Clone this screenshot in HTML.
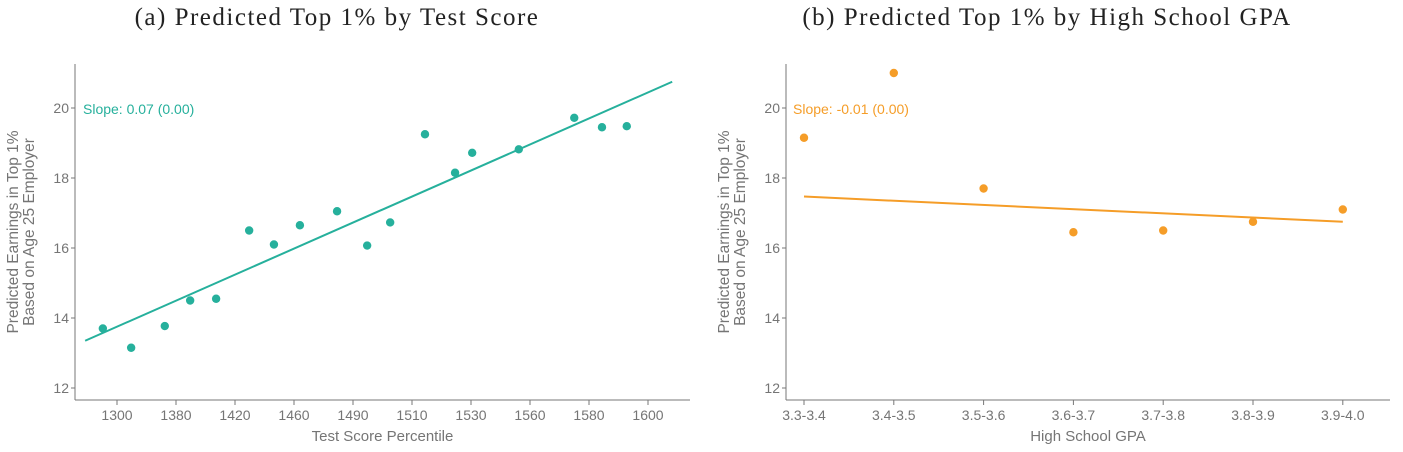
<!DOCTYPE html>
<html><head><meta charset="utf-8"><style>
body{margin:0;background:#fff;width:1403px;height:447px;overflow:hidden}
svg text{font-family:"Liberation Sans",sans-serif;fill:#757575}
</style></head><body>
<svg id="c" width="1403" height="447">
<text x="337" y="25" text-anchor="middle" style="font-family:'Liberation Serif',serif;font-size:25px;letter-spacing:1.5px;fill:#222">(a)  Predicted Top 1% by Test Score</text>
<text x="1047" y="25" text-anchor="middle" style="font-family:'Liberation Serif',serif;font-size:25px;letter-spacing:1.5px;fill:#222">(b)  Predicted Top 1% by High School GPA</text>
</svg>
<script>
const aCats=["1300","1380","1420","1460","1490","1510","1530","1560","1580","1600"];
const aX=[-0.24,0.24,0.81,1.24,1.68,2.24,2.66,3.10,3.73,4.24,4.63,5.22,5.73,6.02,6.81,7.75,8.22,8.64];
const aY=[13.7,13.15,13.77,14.5,14.55,16.5,16.1,16.65,17.05,16.07,16.73,19.25,18.15,18.72,18.82,19.72,19.45,19.48];
const aFitX=[-0.54,9.41];
const aFitY=[13.35,20.75];
const bCats=["3.3-3.4","3.4-3.5","3.5-3.6","3.6-3.7","3.7-3.8","3.8-3.9","3.9-4.0"];
const bY=[19.15,21.0,17.7,16.45,16.5,16.75,17.1];
const bFitY=[17.47,16.75];
const yTicks=[12,14,16,18,20];
const NS="http://www.w3.org/2000/svg";
const svg=document.getElementById('c');
function el(t,a,txt){const e=document.createElementNS(NS,t);for(const k in a)e.setAttribute(k,a[k]);if(txt!=null)e.textContent=txt;svg.appendChild(e);return e;}
function panel(p){
  const ys=v=>388-(v-12)*35;
  const xs=i=>p.x0+p.dx*i;
  let e=el('line',{x1:p.ax,y1:64,x2:p.ax,y2:400,stroke:'#777','stroke-width':1});
  
  
  e=el('line',{x1:p.ax,y1:400,x2:p.xEnd,y2:400,stroke:'#777','stroke-width':1});
  
  
  yTicks.forEach(v=>{
    el('line',{x1:p.ax-4,y1:ys(v),x2:p.ax,y2:ys(v),stroke:'#777'});
    e=el('text',{x:p.ax-6,y:ys(v)+5,'text-anchor':'end','font-size':14},String(v));
    
    
  });
  p.cats.forEach((c,i)=>{
    el('line',{x1:xs(i),y1:400,x2:xs(i),y2:405,stroke:'#777'});
    e=el('text',{x:xs(i),y:420,'text-anchor':'middle','font-size':14},c);
    
    
  });
  e=el('text',{x:(p.ax+p.xEnd)/2,y:441,'text-anchor':'middle','font-size':15},p.xt);
  
  
  const g=el('text',{transform:`translate(${p.ax-57},232) rotate(-90)`,'text-anchor':'middle','font-size':15.5});
  
  
  const t1=document.createElementNS(NS,'tspan');t1.setAttribute('x',0);t1.setAttribute('dy',0);t1.textContent='Predicted Earnings in Top 1%';g.appendChild(t1);
  const t2=document.createElementNS(NS,'tspan');t2.setAttribute('x',0);t2.setAttribute('dy',16);t2.textContent='Based on Age 25 Employer';g.appendChild(t2);
  e=el('line',{x1:xs(p.fx[0]),y1:ys(p.fy[0]),x2:xs(p.fx[1]),y2:ys(p.fy[1]),stroke:p.col,'stroke-width':2});
  
  
  p.px.forEach((x,i)=>{
    const d=el('circle',{cx:xs(x),cy:ys(p.py[i]),r:4.2,fill:p.col});
    
    
  });
  e=el('text',{x:p.sx,y:114,'font-size':14,style:'fill:'+p.col},p.slope);
  
  
}
panel({id:'panel-a',ax:75,xEnd:690,x0:117,dx:59,cats:aCats,px:aX,py:aY,fx:aFitX,fy:aFitY,col:'#26b09c',xt:'Test Score Percentile',slope:'Slope: 0.07 (0.00)',sx:83});
panel({id:'panel-b',ax:786,xEnd:1390,x0:804,dx:89.8,cats:bCats,px:bCats.map((c,i)=>i),py:bY,fx:[0,6],fy:bFitY,col:'#f59d28',xt:'High School GPA',slope:'Slope: -0.01 (0.00)',sx:793});
</script>
</body></html>
